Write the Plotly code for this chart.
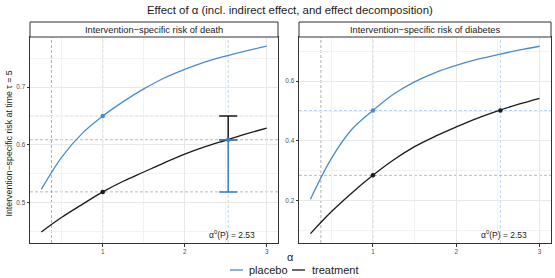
import plotly.graph_objects as go

# ---- data ----
alpha = [0.25, 0.5, 0.75, 1.0, 1.25, 1.5, 1.75, 2.0, 2.25, 2.5, 2.75, 3.0]
death_placebo = [0.523, 0.579, 0.620, 0.650, 0.675, 0.697, 0.716, 0.731, 0.744, 0.754, 0.763, 0.771]
death_treatment = [0.449, 0.4745, 0.497, 0.5186, 0.537, 0.553, 0.569, 0.584, 0.597, 0.608, 0.619, 0.629]
diab_placebo = [0.205, 0.341, 0.440, 0.502, 0.557, 0.598, 0.629, 0.653, 0.673, 0.689, 0.704, 0.717]
diab_treatment = [0.090, 0.163, 0.227, 0.285, 0.337, 0.381, 0.416, 0.447, 0.476, 0.501, 0.523, 0.543]

alpha0 = 2.53
alpha_eq = 0.375
ref_alpha = 1.0

death_pl_1 = 0.650      # placebo at alpha=1
death_tr_1 = 0.5186     # treatment at alpha=1
death_tr_a0 = 0.609     # treatment at alpha0
diab_pl_1 = 0.502
diab_tr_1 = 0.285
diab_tr_a0 = 0.502

panel_titles = ["Intervention\u2212specific risk of death", "Intervention\u2212specific risk of diabetes"]
series_names = ["placebo", "treatment"]

BLUE = "#4a8ccb"
BLUE_EB = "#3b7fc0"
BLACK = "#1a1a1a"
FONT = "Liberation Sans"

W, H = 555, 278
def px(x): return x / W
def py(y): return 1 - y / H

fig = go.Figure()

xd1 = [px(30), px(278)]
xd2 = [px(299), px(551)]
yd = [py(243), py(37)]

# main curves
for xa, ya, pl, tr in [("x", "y", death_placebo, death_treatment), ("x2", "y2", diab_placebo, diab_treatment)]:
    fig.add_trace(go.Scatter(x=alpha, y=pl, mode="lines", line=dict(color=BLUE, width=1.3, shape="spline"),
                             xaxis=xa, yaxis=ya, showlegend=False, name="placebo"))
    fig.add_trace(go.Scatter(x=alpha, y=tr, mode="lines", line=dict(color=BLACK, width=1.3, shape="spline"),
                             xaxis=xa, yaxis=ya, showlegend=False, name="treatment"))

# reference lines
def vline(x, color, xa, ya):
    fig.add_shape(type="line", x0=x, x1=x, y0=0, y1=1, xref=xa, yref=ya + " domain",
                  line=dict(color=color, width=0.8, dash="3px,2px"), layer="below")
def hline(y, color, xa, ya):
    fig.add_shape(type="line", x0=0, x1=1, y0=y, y1=y, xref=xa + " domain", yref=ya,
                  line=dict(color=color, width=0.8, dash="3px,2px"), layer="below")

for xa, ya in [("x", "y"), ("x2", "y2")]:
    vline(alpha_eq, "#9a9a9a", xa, ya)
    vline(ref_alpha, "#f3a3a3", xa, ya)
    vline(alpha0, "#a9c9e8", xa, ya)

hline(death_pl_1, "#a9c9e8", "x", "y")
hline(death_tr_a0, "#a8a8a8", "x", "y")
hline(death_tr_1, "#a8a8a8", "x", "y")
hline(diab_pl_1, "#a9c9e8", "x2", "y2")
hline(diab_tr_1, "#a8a8a8", "x2", "y2")

# error bars (left panel)
fig.add_trace(go.Scatter(x=[alpha0], y=[death_tr_a0], mode="markers", marker=dict(size=1, color=BLACK),
                         error_y=dict(type="data", symmetric=False, array=[death_pl_1 - death_tr_a0], arrayminus=[0],
                                      color=BLACK, thickness=1.5, width=9),
                         xaxis="x", yaxis="y", showlegend=False))
fig.add_trace(go.Scatter(x=[alpha0], y=[death_tr_a0], mode="markers", marker=dict(size=4.5, color=BLUE_EB),
                         error_y=dict(type="data", symmetric=False, array=[0], arrayminus=[death_tr_a0 - death_tr_1],
                                      color=BLUE_EB, thickness=1.5, width=9),
                         xaxis="x", yaxis="y", showlegend=False))

# points
fig.add_trace(go.Scatter(x=[ref_alpha], y=[death_pl_1], mode="markers", marker=dict(size=4.5, color=BLUE),
                         xaxis="x", yaxis="y", showlegend=False))
fig.add_trace(go.Scatter(x=[ref_alpha], y=[death_tr_1], mode="markers", marker=dict(size=4.5, color=BLACK),
                         xaxis="x", yaxis="y", showlegend=False))
fig.add_trace(go.Scatter(x=[ref_alpha], y=[diab_pl_1], mode="markers", marker=dict(size=4.5, color=BLUE),
                         xaxis="x2", yaxis="y2", showlegend=False))
fig.add_trace(go.Scatter(x=[ref_alpha, alpha0], y=[diab_tr_1, diab_tr_a0], mode="markers", marker=dict(size=4.5, color=BLACK),
                         xaxis="x2", yaxis="y2", showlegend=False))

axis_common = dict(showline=True, linecolor="#333333", linewidth=1, mirror=True,
                   ticks="outside", ticklen=2.5, tickwidth=0.6, tickcolor="#333333",
                   tickfont=dict(family=FONT, size=6.4, color="#4d4d4d"),
                   showgrid=True, gridcolor="#e8e8e8", gridwidth=0.8, zeroline=False)

fig.update_layout(
    width=W, height=H, margin=dict(l=0, r=0, t=0, b=0),
    paper_bgcolor="white", plot_bgcolor="white",
    font=dict(family=FONT, color="#1a1a1a"),
    showlegend=False,
    xaxis=dict(domain=xd1, range=[0.1125, 3.1375], tickvals=[1, 2, 3], ticktext=["1", "2", "3"], anchor="y",
               minor=dict(tickvals=[0.5, 1.5, 2.5], showgrid=True, gridcolor="#f2f2f2", gridwidth=0.6, ticks=""),
               **axis_common),
    yaxis=dict(domain=yd, range=[0.430, 0.787], tickvals=[0.5, 0.6, 0.7], ticktext=["0.5", "0.6", "0.7"], anchor="x",
               minor=dict(tickvals=[0.45, 0.55, 0.65, 0.75], showgrid=True, gridcolor="#f2f2f2", gridwidth=0.6, ticks=""),
               **axis_common),
    xaxis2=dict(domain=xd2, range=[0.1125, 3.1375], tickvals=[1, 2, 3], ticktext=["1", "2", "3"], anchor="y2",
                minor=dict(tickvals=[0.5, 1.5, 2.5], showgrid=True, gridcolor="#f2f2f2", gridwidth=0.6, ticks=""),
                **axis_common),
    yaxis2=dict(domain=yd, range=[0.0586, 0.748], tickvals=[0.2, 0.4, 0.6], ticktext=["0.2", "0.4", "0.6"], anchor="x2",
                minor=dict(tickvals=[0.1, 0.3, 0.5, 0.7], showgrid=True, gridcolor="#f2f2f2", gridwidth=0.6, ticks=""),
                **axis_common),
)

# strips
for xd, title in zip([xd1, xd2], panel_titles):
    fig.add_shape(type="rect", xref="paper", yref="paper", x0=xd[0], x1=xd[1], y0=py(37), y1=py(22),
                  fillcolor="white", line=dict(color="#333333", width=1))
    fig.add_annotation(xref="paper", yref="paper", x=(xd[0] + xd[1]) / 2, y=py(29.5), text=title,
                       showarrow=False, font=dict(family=FONT, size=9.3, color="#1a1a1a"),
                       xanchor="center", yanchor="middle")

# alpha0 annotations
fig.add_annotation(xref="x", yref="y domain", x=2.58, y=0.04, text="\u03b1<sup>0</sup>(P) = 2.53", showarrow=False,
                   font=dict(family=FONT, size=8.5, color="#1a1a1a"), xanchor="center", yanchor="middle")
fig.add_annotation(xref="x2", yref="y2 domain", x=2.575, y=0.04, text="\u03b1<sup>0</sup>(P) = 2.53", showarrow=False,
                   font=dict(family=FONT, size=8.5, color="#1a1a1a"), xanchor="center", yanchor="middle")

# title
fig.add_annotation(xref="paper", yref="paper", x=px(290), y=py(9.5),
                   text="Effect of \u03b1 (incl. indirect effect, and effect decomposition)", showarrow=False,
                   font=dict(family=FONT, size=11.4, color="#1a1a1a"), xanchor="center", yanchor="middle")
# axis titles
fig.add_annotation(xref="paper", yref="paper", x=px(8.5), y=py(144),
                   text="Intervention\u2212specific risk at time \u03c4 = 5", textangle=-90, showarrow=False,
                   font=dict(family=FONT, size=8.8, color="#1a1a1a"), xanchor="center", yanchor="middle")
fig.add_annotation(xref="paper", yref="paper", x=px(290), y=py(256.5), text="\u03b1", showarrow=False,
                   font=dict(family=FONT, size=11, color="#1a1a1a"), xanchor="center", yanchor="middle")

# manual legend
leg = [(230, 243, BLUE, 247, series_names[0]), (292, 305, BLACK, 310, series_names[1])]
for x0, x1, col, tx, name in leg:
    fig.add_shape(type="line", xref="paper", yref="paper", x0=px(x0), x1=px(x1), y0=py(270), y1=py(270),
                  line=dict(color=col, width=1.3))
    fig.add_annotation(xref="paper", yref="paper", x=px(tx), y=py(270), text=name, showarrow=False,
                       font=dict(family=FONT, size=11, color="#1a1a1a"), xanchor="left", yanchor="middle")

fig.write_html("out.html", config={"displayModeBar": False},
               post_script="document.body.style.margin='0';document.body.style.padding='0';"
                           "document.body.style.overflow='hidden';")
